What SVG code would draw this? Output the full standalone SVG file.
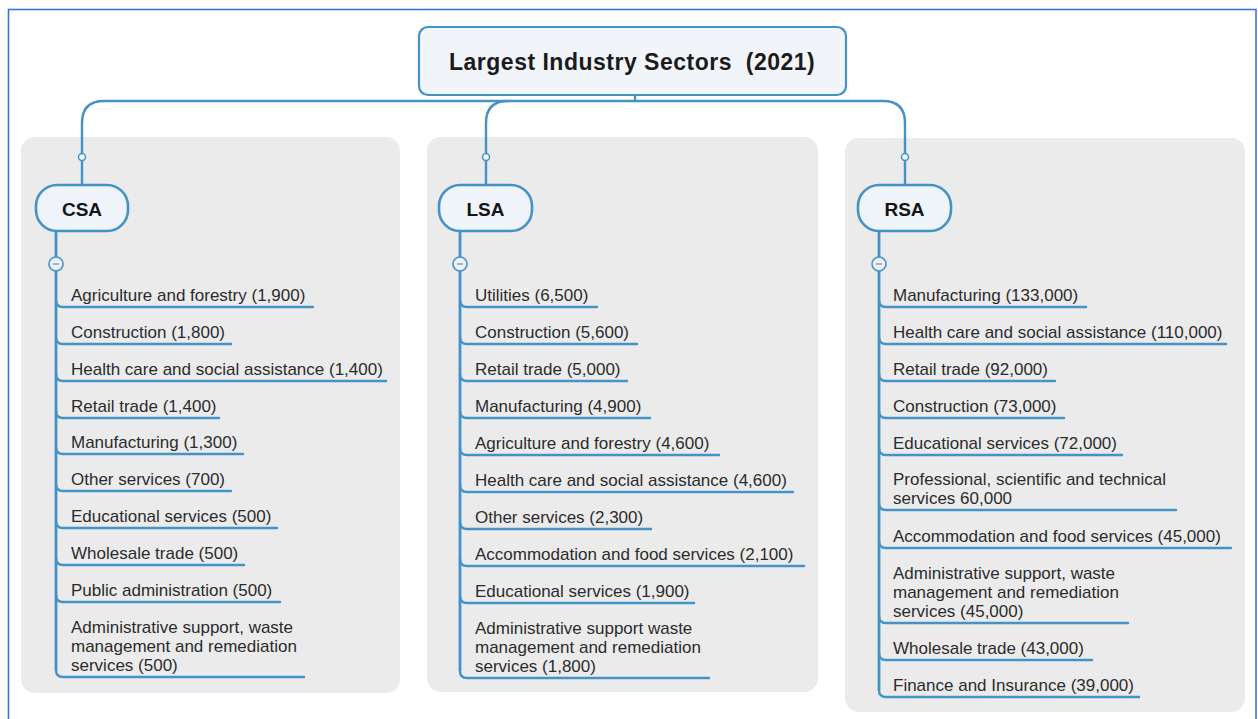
<svg xmlns="http://www.w3.org/2000/svg" width="1258" height="719" viewBox="0 0 1258 719">
<style>
.bg{fill:#ffffff}
.frame{fill:none;stroke:#4173d3;stroke-width:1.6}
.panel{fill:#ebebeb}
.box{fill:#f1f5f9;stroke:#4592c6;stroke-width:2.2}
.pill{fill:#eef4f9;stroke:#4592c6;stroke-width:2.6}
.title{font-family:"Liberation Sans",Arial,sans-serif;font-weight:bold;font-size:23px;fill:#1b1b1b;letter-spacing:0.5px}
.hdr{font-family:"Liberation Sans",Arial,sans-serif;font-weight:bold;font-size:19px;fill:#151515;text-anchor:middle}
.item{font-family:"Liberation Sans",Arial,sans-serif;font-size:17px;fill:#2b2b2b}
.ln{fill:none;stroke:#4592c6;stroke-width:2.4;stroke-linecap:round}
.trunk{fill:none;stroke:#4592c6;stroke-width:2.8}
.dot{fill:#f4f8fb;stroke:#4592c6;stroke-width:1.5}
.col{fill:#eaf1f8;stroke:#4592c6;stroke-width:1.6}
.minus{stroke:#8a9aa8;stroke-width:1.4}
</style>
<rect class="bg" x="0" y="0" width="1258" height="719"/>
<rect class="frame" x="8.5" y="9.5" width="1247.5" height="720"/>

<g id="panels">
<rect class="panel" x="21" y="137" width="379" height="556" rx="14"/>
<rect class="panel" x="427" y="137" width="391" height="555" rx="14"/>
<rect class="panel" x="845" y="138" width="400" height="574" rx="14"/>
</g>

<g id="connectors">
<path class="ln" d="M635,95 V101"/>
<path class="ln" d="M82,185 V123 Q82,101 104,101 H883 Q905,101 905,123 V185"/>
<path class="ln" d="M486,185 V123 Q486,101 508,101"/>
<circle class="dot" cx="82" cy="157" r="3.5"/>
<circle class="dot" cx="486" cy="157" r="3.5"/>
<circle class="dot" cx="905" cy="157" r="3.5"/>

<path class="trunk" d="M56,231 V670"/>
<path class="trunk" d="M460,231 V671"/>
<path class="trunk" d="M879,231 V690"/>

<g id="csa-links">
<path class="ln" d="M56,300 Q56,307 63,307 H313"/>
<path class="ln" d="M56,337 Q56,344 63,344 H231"/>
<path class="ln" d="M56,374 Q56,381 63,381 H386"/>
<path class="ln" d="M56,411 Q56,418 63,418 H219"/>
<path class="ln" d="M56,447 Q56,454 63,454 H243"/>
<path class="ln" d="M56,484 Q56,491 63,491 H231"/>
<path class="ln" d="M56,521 Q56,528 63,528 H277"/>
<path class="ln" d="M56,558 Q56,565 63,565 H244"/>
<path class="ln" d="M56,595 Q56,602 63,602 H280"/>
<path class="ln" d="M56,670 Q56,677 63,677 H304"/>
</g>
<g id="lsa-links">
<path class="ln" d="M460,300 Q460,307 467,307 H597"/>
<path class="ln" d="M460,337 Q460,344 467,344 H637"/>
<path class="ln" d="M460,374 Q460,381 467,381 H627"/>
<path class="ln" d="M460,411 Q460,418 467,418 H650"/>
<path class="ln" d="M460,448 Q460,455 467,455 H719"/>
<path class="ln" d="M460,485 Q460,492 467,492 H793"/>
<path class="ln" d="M460,522 Q460,529 467,529 H651"/>
<path class="ln" d="M460,559 Q460,566 467,566 H804"/>
<path class="ln" d="M460,596 Q460,603 467,603 H694"/>
<path class="ln" d="M460,671 Q460,678 467,678 H709"/>
</g>
<g id="rsa-links">
<path class="ln" d="M879,300 Q879,307 886,307 H1086"/>
<path class="ln" d="M879,337 Q879,344 886,344 H1226"/>
<path class="ln" d="M879,374 Q879,381 886,381 H1055"/>
<path class="ln" d="M879,411 Q879,418 886,418 H1064"/>
<path class="ln" d="M879,448 Q879,455 886,455 H1122"/>
<path class="ln" d="M879,503 Q879,510 886,510 H1176"/>
<path class="ln" d="M879,541 Q879,548 886,548 H1231"/>
<path class="ln" d="M879,616 Q879,623 886,623 H1128"/>
<path class="ln" d="M879,653 Q879,660 886,660 H1092"/>
<path class="ln" d="M879,690 Q879,697 886,697 H1139"/>
</g>
<g id="collapse">
<circle class="col" cx="56" cy="264" r="7"/><line class="minus" x1="53" y1="264" x2="59" y2="264"/>
<circle class="col" cx="460" cy="264" r="7"/><line class="minus" x1="457" y1="264" x2="463" y2="264"/>
<circle class="col" cx="879" cy="264" r="7"/><line class="minus" x1="876" y1="264" x2="882" y2="264"/>
</g>
</g>

<g id="root">
<rect class="box" x="419" y="27" width="427" height="68" rx="9"/>
<text class="title" x="449" y="70" xml:space="preserve">Largest Industry Sectors  (2021)</text>
</g>

<g id="csa">
<rect class="pill" x="36" y="185" width="92" height="46" rx="21"/>
<text class="hdr" x="82" y="216">CSA</text>
</g>
<g id="lsa">
<rect class="pill" x="439" y="185" width="93" height="46" rx="21"/>
<text class="hdr" x="485.5" y="216">LSA</text>
</g>
<g id="rsa">
<rect class="pill" x="858" y="185" width="93" height="46" rx="21"/>
<text class="hdr" x="904.5" y="216">RSA</text>
</g>

<g id="csa-items" class="item">
<g id="csa-1"><text x="71" y="301">Agriculture and forestry (1,900)</text></g>
<g id="csa-2"><text x="71" y="338">Construction (1,800)</text></g>
<g id="csa-3"><text x="71" y="375">Health care and social assistance (1,400)</text></g>
<g id="csa-4"><text x="71" y="412">Retail trade (1,400)</text></g>
<g id="csa-5"><text x="71" y="448">Manufacturing (1,300)</text></g>
<g id="csa-6"><text x="71" y="485">Other services (700)</text></g>
<g id="csa-7"><text x="71" y="522">Educational services (500)</text></g>
<g id="csa-8"><text x="71" y="559">Wholesale trade (500)</text></g>
<g id="csa-9"><text x="71" y="596">Public administration (500)</text></g>
<g id="csa-10"><text x="71" y="633">Administrative support, waste</text><text x="71" y="652">management and remediation</text><text x="71" y="671">services (500)</text></g>
</g>

<g id="lsa-items" class="item">
<g id="lsa-1"><text x="475" y="301">Utilities (6,500)</text></g>
<g id="lsa-2"><text x="475" y="338">Construction (5,600)</text></g>
<g id="lsa-3"><text x="475" y="375">Retail trade (5,000)</text></g>
<g id="lsa-4"><text x="475" y="412">Manufacturing (4,900)</text></g>
<g id="lsa-5"><text x="475" y="449">Agriculture and forestry (4,600)</text></g>
<g id="lsa-6"><text x="475" y="486">Health care and social assistance (4,600)</text></g>
<g id="lsa-7"><text x="475" y="523">Other services (2,300)</text></g>
<g id="lsa-8"><text x="475" y="560">Accommodation and food services (2,100)</text></g>
<g id="lsa-9"><text x="475" y="597">Educational services (1,900)</text></g>
<g id="lsa-10"><text x="475" y="634">Administrative support waste</text><text x="475" y="653">management and remediation</text><text x="475" y="672">services (1,800)</text></g>
</g>

<g id="rsa-items" class="item">
<g id="rsa-1"><text x="893" y="301">Manufacturing (133,000)</text></g>
<g id="rsa-2"><text x="893" y="338">Health care and social assistance (110,000)</text></g>
<g id="rsa-3"><text x="893" y="375">Retail trade (92,000)</text></g>
<g id="rsa-4"><text x="893" y="412">Construction (73,000)</text></g>
<g id="rsa-5"><text x="893" y="449">Educational services (72,000)</text></g>
<g id="rsa-6"><text x="893" y="485">Professional, scientific and technical</text><text x="893" y="504">services 60,000</text></g>
<g id="rsa-7"><text x="893" y="542">Accommodation and food services (45,000)</text></g>
<g id="rsa-8"><text x="893" y="579">Administrative support, waste</text><text x="893" y="598">management and remediation</text><text x="893" y="617">services (45,000)</text></g>
<g id="rsa-9"><text x="893" y="654">Wholesale trade (43,000)</text></g>
<g id="rsa-10"><text x="893" y="691">Finance and Insurance (39,000)</text></g>
</g>
</svg>
